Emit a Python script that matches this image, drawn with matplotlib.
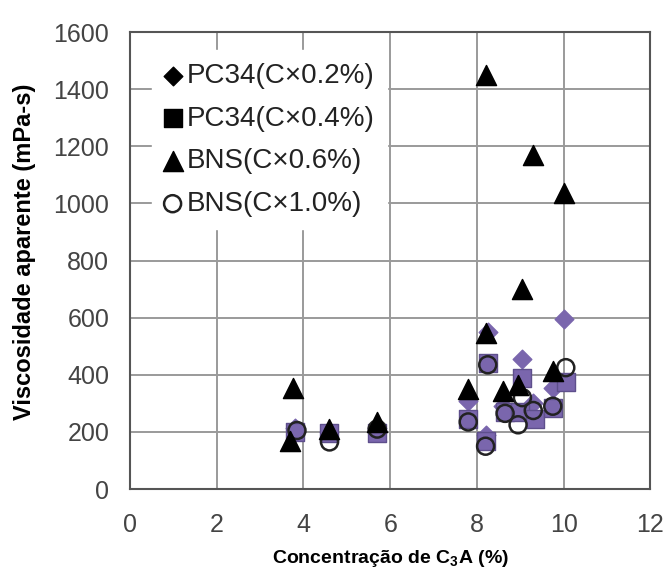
import matplotlib
matplotlib.use('Agg')
import matplotlib.pyplot as plt
from matplotlib import font_manager

plt.rcParams['font.family'] = ['Liberation Sans', 'DejaVu Sans']

# axis titles are set in a narrow bold face when one is installed
names = {f.name for f in font_manager.fontManager.ttflist}
narrow = 'Liberation Sans Narrow' if 'Liberation Sans Narrow' in names else 'Liberation Sans'
plt.rcParams['mathtext.fontset'] = 'custom'
plt.rcParams['mathtext.rm'] = narrow + ':bold'
plt.rcParams['mathtext.bf'] = narrow + ':bold'

# C3A content (%) and apparent viscosity (mPa-s) per admixture / dosage
pc34_02_x = [3.8, 4.6, 5.7, 7.8, 8.25, 8.2, 8.6, 9.05, 9.3, 9.75, 10.0]
pc34_02_y = [215, 200, 215, 310, 550, 190, 290, 455, 300, 355, 595]

pc34_04_x = [3.8, 4.6, 5.7, 7.8, 8.25, 8.65, 9.0, 9.05, 9.35, 9.75, 10.05, 8.2]
pc34_04_y = [200, 195, 195, 245, 440, 270, 270, 390, 245, 285, 375, 170]

bns_06_x = [3.7, 3.75, 4.6, 5.7, 7.8, 8.2, 8.2, 8.6, 8.95, 9.05, 9.3, 9.75, 10.0]
bns_06_y = [170, 355, 210, 235, 350, 545, 1450, 345, 365, 700, 1170, 415, 1035]

bns_10_x = [3.85, 4.6, 5.7, 7.8, 8.2, 8.25, 8.65, 8.95, 9.05, 9.3, 9.75, 10.05]
bns_10_y = [205, 165, 210, 235, 150, 435, 265, 225, 320, 275, 290, 425]

labels = ['PC34(C\u00d70.2%)', 'PC34(C\u00d70.4%)', 'BNS(C\u00d70.6%)', 'BNS(C\u00d71.0%)']

purple = '#7a66ad'

fig = plt.figure(figsize=(6.67, 5.72), dpi=100)
ax = fig.add_axes([0.195, 0.145, 0.78, 0.799])

ax.scatter(pc34_02_x, pc34_02_y, marker='D', s=90, color=purple,
           edgecolors=purple, label=labels[0], zorder=3)
ax.scatter(pc34_04_x, pc34_04_y, marker='s', s=150, color=purple,
           edgecolors='#5e4f8c', label=labels[1], zorder=3)
ax.scatter(bns_10_x, bns_10_y, marker='o', s=150, facecolors='none',
           edgecolors='#222222', linewidths=1.8, label=labels[3], zorder=4)
ax.scatter(bns_06_x, bns_06_y, marker='^', s=210, color='black',
           label=labels[2], zorder=5)

ax.set_xlim(0, 12)
ax.set_ylim(0, 1600)
ax.set_xticks(range(0, 13, 2))
ax.set_yticks(range(0, 1601, 200))
ax.grid(True, color='#9a9a9a', linewidth=1.4)
ax.set_axisbelow(True)
ax.tick_params(length=0, labelsize=18, labelcolor='#444444')
ax.tick_params(axis='x', pad=17)
ax.tick_params(axis='y', pad=15)
for sp in ax.spines.values():
    sp.set_color('#555555')
    sp.set_linewidth(1.5)

ax.set_xlabel('Concentração de C$_3$A (%)', family=narrow, fontsize=14,
              fontweight='bold', va='center')
ax.xaxis.set_label_coords(0.5, -0.151)
ax.set_ylabel('Viscosidade aparente (mPa-s)', family=narrow, fontsize=17,
              fontweight='bold', va='center')
ax.yaxis.set_label_coords(-0.203, 0.519)

# legend in the fixed order with black markers
h, l = ax.get_legend_handles_labels()
hmap = dict(zip(l, h))
leg = ax.legend([hmap[t] for t in labels], labels, loc='upper left',
                bbox_to_anchor=(0.015, 0.99), frameon=True, fancybox=False,
                edgecolor='white', framealpha=1, fontsize=20,
                handlelength=0.6, handletextpad=0.2, labelspacing=0.6,
                borderpad=0.45, scatterpoints=1, labelcolor='#222222')
for lh in leg.legend_handles[:3]:
    lh.set_facecolor('black')
    lh.set_edgecolor('black')
leg.set_zorder(10)

fig.savefig('out.png', dpi=100)
